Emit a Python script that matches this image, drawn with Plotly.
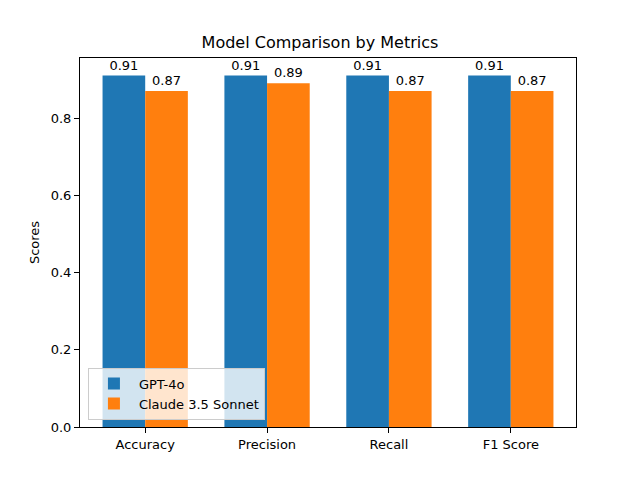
import plotly.graph_objects as go

categories = ["Accuracy", "Precision", "Recall", "F1 Score"]
gpt4o = [0.91, 0.91, 0.91, 0.91]
claude = [0.87, 0.89, 0.87, 0.87]
series_names = ["GPT-4o", "Claude 3.5 Sonnet"]
yticks = [0.0, 0.2, 0.4, 0.6, 0.8]

fig = go.Figure()
for name, vals, color in [(series_names[0], gpt4o, "#1f77b4"), (series_names[1], claude, "#ff7f0e")]:
    fig.add_trace(go.Bar(
        x=categories, y=vals, name=name, marker_color=color, marker_line_width=0,
        text=[f"{v:.2f}" for v in vals], textposition="outside",
        textfont=dict(size=13, color="black"), cliponaxis=False,
    ))

fig.update_layout(
    width=640, height=480,
    barmode="group", bargap=0.3, bargroupgap=0,
    paper_bgcolor="white", plot_bgcolor="white",
    font=dict(family="DejaVu Sans", size=13, color="black"),
    margin=dict(l=80, r=64, t=58, b=53),
    title=dict(text="Model Comparison by Metrics", x=0.5, xanchor="center", y=1 - 42 / 480, yanchor="middle",
               font=dict(size=16)),
    showlegend=True,
    legend=dict(x=0.016, y=0.02, xanchor="left", yanchor="bottom", bgcolor="rgba(255,255,255,0.8)",
                bordercolor="#cccccc", borderwidth=1, font=dict(size=13), tracegroupgap=0,
                itemwidth=40),
)
fig.update_xaxes(range=[-0.535, 3.535], showline=True, linecolor="black", linewidth=1, mirror=True,
                 ticks="outside", ticklen=5, tickcolor="black", showgrid=False)
fig.update_yaxes(range=[0, 0.9555], showline=True, linecolor="black", linewidth=1, mirror=True,
                 ticks="outside", ticklen=5, tickcolor="black", showgrid=False, zeroline=False,
                 tickvals=yticks, ticktext=[f"{t:.1f}" for t in yticks],
                 title=dict(text="Scores", font=dict(size=13), standoff=8))
fig.update_traces(textangle=0, constraintext="none")
fig.write_html("out.html", config={"displayModeBar": False},
               post_script="document.body.style.margin='0';document.body.style.overflow='hidden';")
